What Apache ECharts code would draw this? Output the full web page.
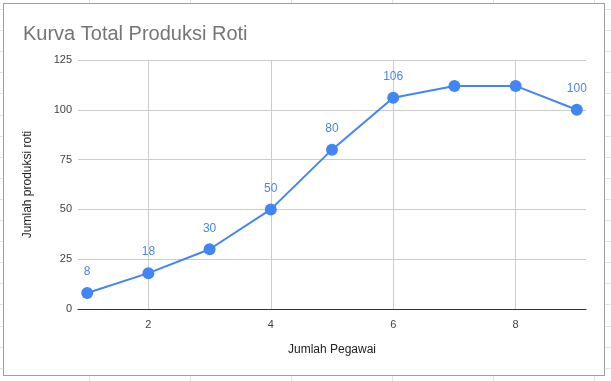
<!DOCTYPE html>
<html><head><meta charset="utf-8">
<script src="https://cdn.jsdelivr.net/npm/echarts@6/dist/echarts.min.js"></script>
<style>
html,body{margin:0;padding:0;width:611px;height:381px;overflow:hidden;}
body{background-color:#fff;
background-image:
 repeating-linear-gradient(to right, transparent 0, transparent 89px, #e3e3e3 89px, #e3e3e3 90px, transparent 90px, transparent 101px),
 repeating-linear-gradient(to bottom, transparent 0, transparent 9px, #e3e3e3 9px, #e3e3e3 10px, transparent 10px, transparent 21.1px);
}
#box{position:absolute;left:3px;top:3px;width:602px;height:373px;box-sizing:border-box;border:1px solid #9e9e9e;background:#fff;}
#chart{width:600px;height:371px;}
</style></head>
<body><div id="box"><div id="chart"></div></div>
<script>
const title = 'Kurva Total Produksi Roti';
const xName = 'Jumlah Pegawai';
const yName = 'Jumlah produksi roti';
const pegawai = [1, 2, 3, 4, 5, 6, 7, 8, 9];
const produksi = [8, 18, 30, 50, 80, 106, 112, 112, 100];
const hiddenLabels = [6, 7];
const xTicks = [2, 4, 6, 8];
const yTicks = [0, 25, 50, 75, 100, 125];

const font = '"Liberation Sans", Arial, sans-serif';
const chart = echarts.init(document.getElementById('chart'), null, {renderer: 'canvas'});
chart.setOption({
  animation: false,
  title: {text: title, left: 14, top: 15, textStyle: {fontFamily: font, fontSize: 20, fontWeight: 'normal', color: '#757575'}},
  grid: {left: 74, right: 18, top: 56, bottom: 66, containLabel: false},
  xAxis: {
    type: 'value', min: 0.85, max: 9.15,
    name: xName, nameLocation: 'middle', nameGap: 35,
    nameTextStyle: {fontFamily: font, fontSize: 12, color: '#222'},
    axisLine: {show: true, onZero: false, lineStyle: {color: '#333', width: 1}},
    axisTick: {show: false, customValues: xTicks},
    axisLabel: {customValues: xTicks, margin: 10, fontFamily: font, fontSize: 11, color: '#444'},
    splitLine: {show: true, lineStyle: {color: '#ccc'}}
  },
  yAxis: {
    type: 'value', min: yTicks[0], max: yTicks[yTicks.length - 1], interval: 25,
    name: yName, nameLocation: 'middle', nameGap: 44, nameRotate: 90,
    nameTextStyle: {fontFamily: font, fontSize: 12, color: '#222'},
    axisLine: {show: false}, axisTick: {show: false},
    axisLabel: {margin: 6, fontFamily: font, fontSize: 11, color: '#444'},
    splitLine: {show: true, lineStyle: {color: '#ccc'}}
  },
  series: [{
    type: 'line',
    data: pegawai.map((x, i) => ({value: [x, produksi[i]], label: {show: hiddenLabels.indexOf(i) < 0}})),
    symbol: 'circle', symbolSize: 12,
    itemStyle: {color: '#4285f4'},
    lineStyle: {color: '#4285f4', width: 2},
    label: {show: true, position: 'top', distance: 9, fontFamily: font, fontSize: 12, color: '#4a86e8',
      formatter: p => p.value[1]},
    z: 3
  }]
});
</script></body></html>
